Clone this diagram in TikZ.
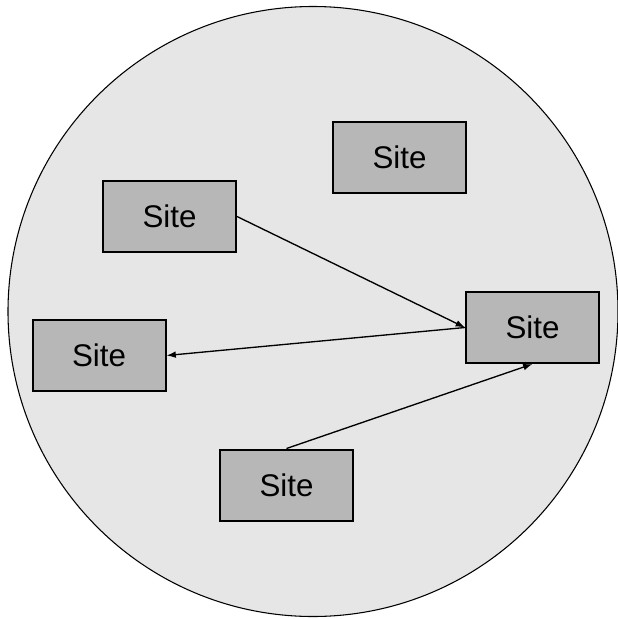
\documentclass[tikz,border=0pt]{standalone}
\usepackage{fontspec}
\setmainfont{Liberation Sans}
\usepackage{tikz}
\usetikzlibrary{arrows.meta}

\definecolor{domaingray}{HTML}{E6E6E6}
\definecolor{sitegray}{HTML}{B7B7B7}

\tikzset{
  site/.style={draw, line width=1.5pt, fill=sitegray, rectangle,
    minimum width=99.75pt, minimum height=53.25pt, inner sep=0pt,
    font=\fontsize{23.5}{27}\selectfont},
  link/.style={-{Latex[length=7pt,width=5pt]}, line width=1pt}
}

\begin{document}
\begin{tikzpicture}[x=0.75pt,y=-0.75pt]
        \useasboundingbox (0,0) rectangle (618,619);
        % Domain
        \draw[fill=domaingray, line width=0.8pt] (313,311.5) circle [radius=305];
        % Sites
        \node[site] (siteTop) at (399.5,157.5) {Site};
        \node[site] (siteUpper) at (169.5,216.5) {Site};
        \node[site] (siteRight) at (532.5,327.5) {Site};
        \node[site] (siteLeft) at (99,355.5) {Site};
        \node[site] (siteBottom) at (286.5,485) {Site};
        % Links
        \draw[link] (siteUpper.east) -- (siteRight.west);
        \draw[link] (siteRight.west) -- (siteLeft.east);
        \draw[link] (siteBottom.north) -- (siteRight.south);
\end{tikzpicture}
\end{document}
